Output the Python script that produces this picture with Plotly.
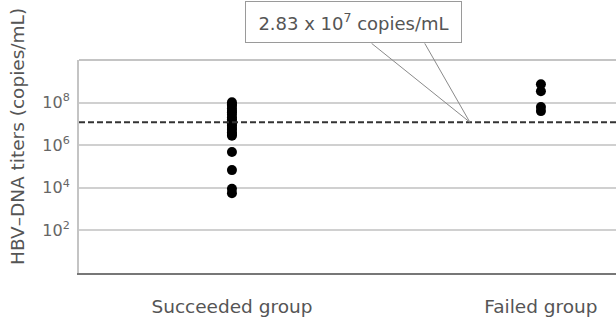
import numpy as np
import plotly.graph_objects as go

# ---- data (values are log10 copies/mL) ----
categories = ["Succeeded group", "Failed group"]
succeeded_log10 = [8.02, 7.92, 7.85, 7.72, 7.61, 7.55, 7.43, 7.30, 7.22, 7.10,
                   7.02, 6.93, 6.81, 6.72, 6.60, 6.52, 6.44, 5.68, 4.83, 3.95, 3.75]
failed_log10 = [8.86, 8.53, 7.79, 7.60]
threshold_log10 = 7.08          # where the dashed cut-off line is drawn
threshold_label = "2.83 x 10<sup>7</sup> copies/mL"
tick_exponents = [2, 4, 6, 8]
tick_labels = ["10<sup>%d</sup>" % e for e in tick_exponents]
y_title = "HBV\u2013DNA titers (copies/mL)"

# ---- layout constants ----
W, H = 616, 324
ML, MR, MT, MB = 79, 0, 60, 51
XR = [-0.495, 1.243]
YR = [0, 10]
FONT = "DejaVu Sans"

def xpaper(v):
    return (v - XR[0]) / (XR[1] - XR[0])

fig = go.Figure()
fig.add_trace(go.Scatter(
    x=[0] * len(succeeded_log10), y=succeeded_log10, mode="markers",
    marker=dict(color="black", size=10), showlegend=False, hoverinfo="y"))
fig.add_trace(go.Scatter(
    x=[1] * len(failed_log10), y=failed_log10, mode="markers",
    marker=dict(color="black", size=10), showlegend=False, hoverinfo="y"))

# dashed threshold line
fig.add_shape(type="line", xref="paper", yref="y", x0=0, x1=1,
              y0=threshold_log10, y1=threshold_log10,
              line=dict(color="#333333", width=2, dash="6px,3px"), layer="above")
# top border
fig.add_shape(type="line", xref="paper", yref="paper", x0=0, x1=1, y0=1, y1=1,
              line=dict(color="#c4c4c4", width=2))

# callout box and pointer lines
anchor_x = 0.77
box_center_x = 0.393
box_bottom_paper = 1.078
thr_paper = (threshold_log10 - YR[0]) / (YR[1] - YR[0])
for sx in (0.452, 0.624):
    fig.add_shape(type="line", xref="paper", yref="paper",
                  x0=xpaper(sx), y0=box_bottom_paper,
                  x1=xpaper(anchor_x), y1=thr_paper,
                  line=dict(color="#8a8a8a", width=1))
fig.add_annotation(text=threshold_label, xref="paper", yref="paper",
                   x=xpaper(box_center_x), y=box_bottom_paper, yanchor="bottom",
                   showarrow=False, width=209, height=34,
                   bordercolor="#9a9a9a", borderwidth=1, borderpad=3,
                   bgcolor="white", font=dict(family=FONT, size=18, color="#555555"))

# y-axis title as annotation
fig.add_annotation(text=y_title, xref="paper", yref="paper",
                   x=(17 - ML) / (W - ML - MR), y=(H - MB - 137) / (H - MT - MB),
                   xanchor="center", yanchor="middle",
                   textangle=-90, showarrow=False,
                   font=dict(family=FONT, size=18.5, color="#555555"))

fig.update_layout(
    width=W, height=H,
    margin=dict(l=ML, r=MR, t=MT, b=MB, autoexpand=False),
    plot_bgcolor="white", paper_bgcolor="white",
    xaxis=dict(range=XR, tickvals=[0, 1], ticktext=categories,
               showgrid=False, zeroline=False, showline=True,
               linecolor="#777777", linewidth=2, ticks="",
               ticklabelstandoff=16, automargin=False,
               tickfont=dict(family=FONT, size=18.5, color="#555555")),
    yaxis=dict(range=YR, tickvals=tick_exponents, ticktext=tick_labels,
               showgrid=True, gridcolor="#d0d0d0", gridwidth=2,
               zeroline=False, showline=True, linecolor="#c4c4c4", linewidth=2,
               ticks="", ticklabelstandoff=4, automargin=False,
               tickfont=dict(family=FONT, size=16, color="#666666")),
)

fig.write_html("out.html",
               config={"displayModeBar": False},
               post_script="document.body.style.margin='0px';"
                           "document.body.style.overflow='hidden';")
